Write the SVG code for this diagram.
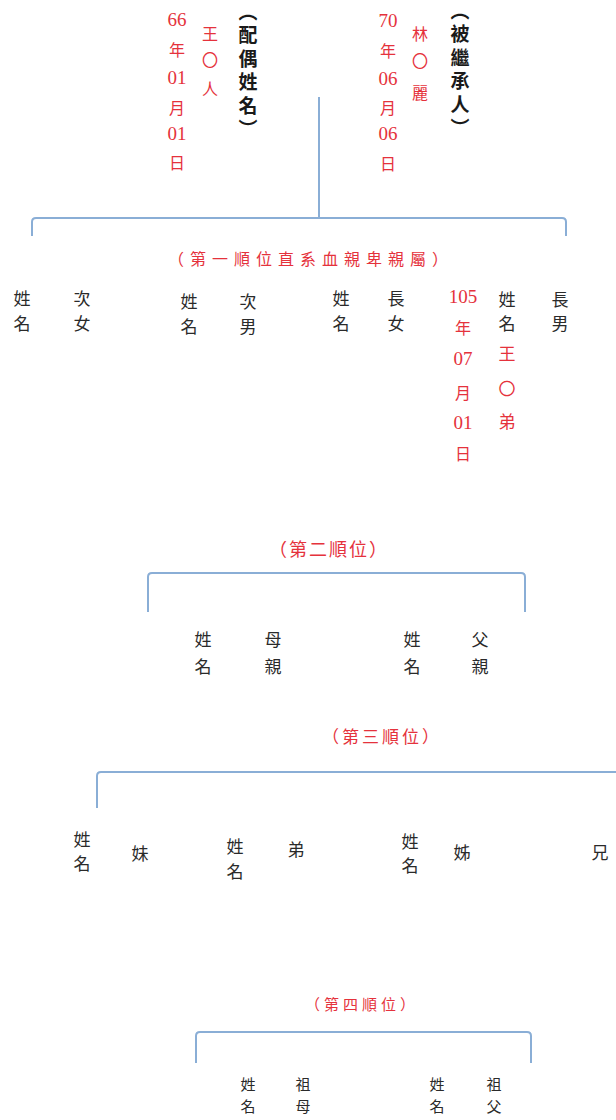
<svg xmlns="http://www.w3.org/2000/svg" width="616" height="1120" viewBox="0 0 616 1120">
<style>
text{font-family:"Noto Sans CJK TC","Noto Sans CJK SC",sans-serif;text-anchor:middle;dominant-baseline:central}
.k{fill:#2a2a2a;font-size:17px}
.b{font-size:15px}
.r{fill:#e5323c;font-size:16px}
.d{font-family:"Liberation Serif","Noto Sans CJK TC",serif;font-size:19px}
.vt{writing-mode:vertical-rl;text-anchor:start;dominant-baseline:auto;font-weight:bold;font-size:19px;letter-spacing:4.5px;fill:#1a1a1a}
.lab{fill:#e5323c}
.ln{fill:none;stroke:#8aaed6;stroke-width:2}
</style>
<rect width="616" height="1120" fill="#fff"/>
<g id="connectors">
<path class="ln" d="M319 97 V218"/>
<path class="ln" d="M32 236 V222 Q32 218 36 218 H562 Q566 218 566 222 V236"/>
<path class="ln" d="M148 612 V577 Q148 573 152 573 H521 Q525 573 525 577 V612"/>
<path class="ln" d="M97 808 V776 Q97 772 101 772 H620"/>
<path class="ln" d="M196 1063 V1036 Q196 1032 200 1032 H527 Q531 1032 531 1036 V1063"/>
</g>
<g id="spouse">
<text class="vt" x="248" y="2">（配偶姓名）</text>
<text class="r"><tspan x="210" y="33">王</tspan><tspan x="210" y="59">〇</tspan><tspan x="210" y="88">人</tspan></text>
<text class="r"><tspan class="d" x="177" y="19">66</tspan><tspan x="177" y="49">年</tspan><tspan class="d" x="177" y="77">01</tspan><tspan x="177" y="107">月</tspan><tspan class="d" x="177" y="133">01</tspan><tspan x="177" y="162">日</tspan></text>
</g>
<g id="decedent">
<text class="vt" x="460" y="1">（被繼承人）</text>
<text class="r"><tspan x="420" y="33">林</tspan><tspan x="420" y="60">〇</tspan><tspan x="420" y="92">麗</tspan></text>
<text class="r"><tspan class="d" x="388" y="20">70</tspan><tspan x="388" y="50">年</tspan><tspan class="d" x="388" y="78">06</tspan><tspan x="388" y="107">月</tspan><tspan class="d" x="388" y="133">06</tspan><tspan x="388" y="163">日</tspan></text>
</g>
<g id="order1-label"><text class="lab" x="311" y="258" style="font-size:16px;letter-spacing:6px">（第一順位直系血親卑親屬）</text></g>
<g id="second-daughter">
<text class="k"><tspan x="22" y="297">姓</tspan><tspan x="22" y="322">名</tspan></text>
<text class="k"><tspan x="82" y="297">次</tspan><tspan x="82" y="322">女</tspan></text>
</g>
<g id="second-son">
<text class="k"><tspan x="189" y="300">姓</tspan><tspan x="189" y="325">名</tspan></text>
<text class="k"><tspan x="248" y="300">次</tspan><tspan x="248" y="325">男</tspan></text>
</g>
<g id="eldest-daughter">
<text class="k"><tspan x="341" y="297">姓</tspan><tspan x="341" y="322">名</tspan></text>
<text class="k"><tspan x="396" y="297">長</tspan><tspan x="396" y="322">女</tspan></text>
</g>
<g id="eldest-son">
<text class="r"><tspan class="d" x="463" y="296">105</tspan><tspan x="463" y="327">年</tspan><tspan class="d" x="463" y="358">07</tspan><tspan x="463" y="392">月</tspan><tspan class="d" x="463" y="422">01</tspan><tspan x="463" y="453">日</tspan></text>
<text class="k"><tspan x="507" y="298">姓</tspan><tspan x="507" y="322">名</tspan></text>
<text class="r" style="font-size:17px"><tspan x="507" y="352">王</tspan><tspan x="507" y="387">〇</tspan><tspan x="507" y="420">弟</tspan></text>
<text class="k"><tspan x="560" y="298">長</tspan><tspan x="560" y="322">男</tspan></text>
</g>
<g id="order2-label"><text class="lab" x="329" y="548" style="font-size:18px;letter-spacing:2px">（第二順位）</text></g>
<g id="mother">
<text class="k"><tspan x="203" y="638">姓</tspan><tspan x="203" y="665">名</tspan></text>
<text class="k"><tspan x="273" y="638">母</tspan><tspan x="273" y="665">親</tspan></text>
</g>
<g id="father">
<text class="k"><tspan x="412" y="638">姓</tspan><tspan x="412" y="665">名</tspan></text>
<text class="k"><tspan x="480" y="638">父</tspan><tspan x="480" y="665">親</tspan></text>
</g>
<g id="order3-label"><text class="lab" x="382" y="735" style="font-size:17px;letter-spacing:3px">（第三順位）</text></g>
<g id="younger-sister">
<text class="k"><tspan x="82" y="838">姓</tspan><tspan x="82" y="862">名</tspan></text>
<text class="k" x="140" y="852">妹</text>
</g>
<g id="younger-brother">
<text class="k"><tspan x="235" y="845">姓</tspan><tspan x="235" y="870">名</tspan></text>
<text class="k" x="296" y="848">弟</text>
</g>
<g id="elder-sister">
<text class="k"><tspan x="410" y="840">姓</tspan><tspan x="410" y="864">名</tspan></text>
<text class="k" x="462" y="851">姊</text>
</g>
<g id="elder-brother">
<text class="k" x="600" y="851">兄</text>
</g>
<g id="order4-label"><text class="lab" x="362" y="1003" style="font-size:15px;letter-spacing:4px">（第四順位）</text></g>
<g id="grandmother">
<text class="k b"><tspan x="248" y="1083">姓</tspan><tspan x="248" y="1105">名</tspan></text>
<text class="k b"><tspan x="303" y="1083">祖</tspan><tspan x="303" y="1105">母</tspan></text>
</g>
<g id="grandfather">
<text class="k b"><tspan x="437" y="1083">姓</tspan><tspan x="437" y="1105">名</tspan></text>
<text class="k b"><tspan x="494" y="1083">祖</tspan><tspan x="494" y="1105">父</tspan></text>
</g>
</svg>
